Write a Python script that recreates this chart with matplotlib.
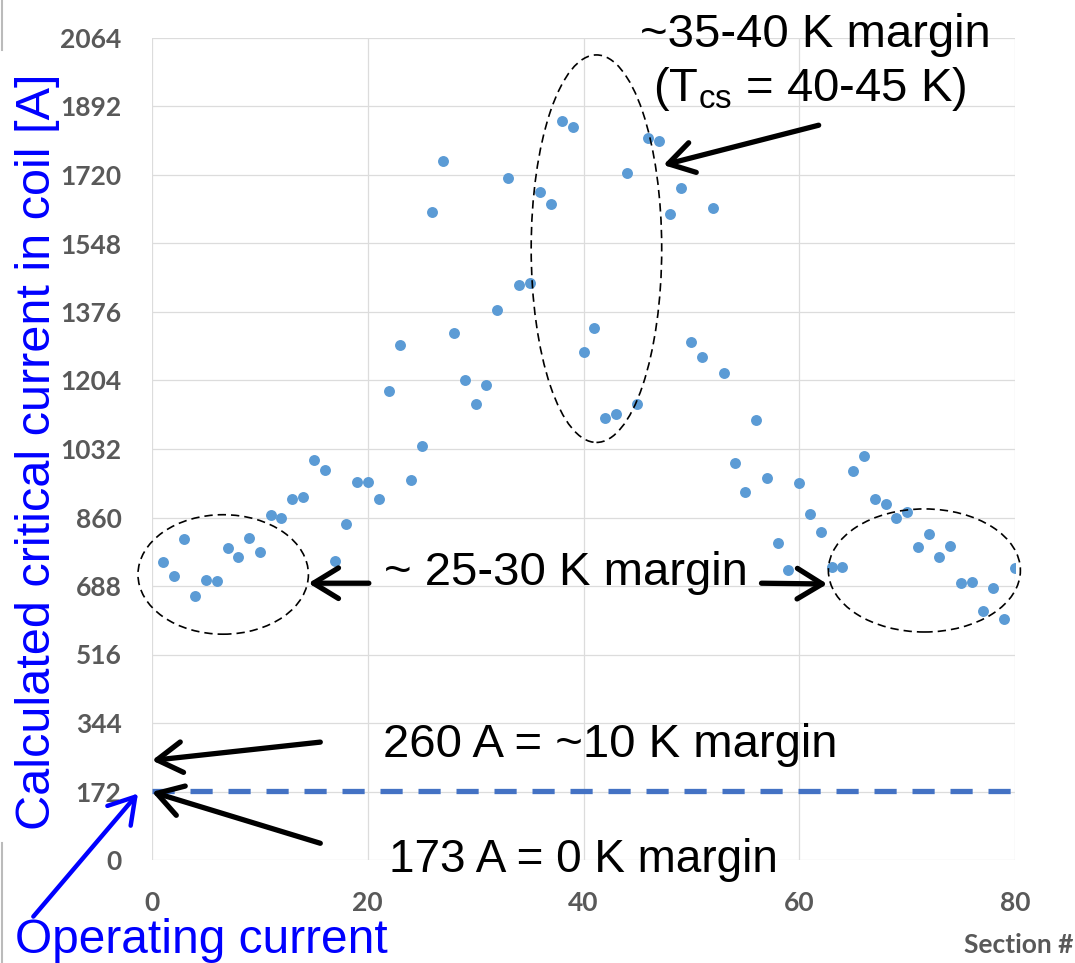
import matplotlib
matplotlib.use("Agg")
import matplotlib.pyplot as plt
import numpy as np
from matplotlib.patches import Ellipse
from matplotlib.lines import Line2D

# Calculated critical current per section
sections = list(range(1, 81))
ic = [748, 713, 806, 664, 703, 700, 783, 761, 808, 774,
      866, 860, 906, 911, 1005, 979, 752, 844, 948, 948,
      906, 1178, 1294, 955, 1040, 1626, 1755, 1324, 1204, 1145,
      1192, 1380, 1713, 1444, 1450, 1677, 1646, 1856, 1841, 1275,
      1337, 1110, 1120, 1724, 1146, 1812, 1806, 1622, 1687, 1300,
      1262, 1637, 1224, 998, 923, 1106, 959, 796, 727, 947,
      868, 823, 735, 735, 978, 1014, 906, 894, 859, 873,
      787, 818, 760, 788, 696, 698, 626, 683, 605, 734]

op_current = 173
x_ticks = [0, 20, 40, 60, 80]
y_ticks = [0, 172, 344, 516, 688, 860, 1032, 1204, 1376, 1548, 1720, 1892, 2064]

plt.rcParams["font.family"] = ["Liberation Sans", "DejaVu Sans"]
plt.rcParams["mathtext.fontset"] = "custom"
plt.rcParams["mathtext.rm"] = "Liberation Sans"

W, H = 1075, 963
fig = plt.figure(figsize=(W / 100, H / 100), dpi=100)
ax = fig.add_axes([152 / W, (H - 860) / H, (1015 - 152) / W, (860 - 38) / H])

ax.set_xlim(0, 80)
ax.set_ylim(0, 2064)
ax.set_xticks(x_ticks)
ax.set_yticks(y_ticks)
for s in ax.spines.values():
    s.set_visible(False)
ax.grid(True, color="#dcdcdc", lw=0.9)
ax.set_axisbelow(True)
ax.tick_params(length=0, labelcolor="#595959", labelsize=19)
ax.tick_params(axis="y", pad=22)
ax.tick_params(axis="x", pad=22)
for lab in ax.get_xticklabels() + ax.get_yticklabels():
    lab.set_fontfamily("Lato")
    lab.set_fontweight("bold")

ax.scatter(sections, ic, s=62, color="#5b9bd5", zorder=3, linewidths=0)
ax.plot([0, 80], [op_current, op_current], color="#4472c4", lw=3.8,
        dashes=(4.2, 3.0), zorder=3, clip_on=False)

# dashed ellipses
ell = dict(fill=False, ec="black", lw=1.2, ls=(0, (5, 3)), clip_on=False, zorder=4)
ax.add_patch(Ellipse((6.6, 717), 15.8, 300, **ell))
ax.add_patch(Ellipse((41.2, 1535), 12.1, 973, **ell))
ax.add_patch(Ellipse((71.6, 727), 17.8, 309, **ell))

# arrows
def arrow(tail, head, color="black", lw=3.8):
    ax.annotate("", xy=head, xytext=tail,
                arrowprops=dict(arrowstyle="->, head_length=0.9, head_width=0.55",
                                lw=lw, color=color, shrinkA=0, shrinkB=0,
                                mutation_scale=20),
                annotation_clip=False, zorder=5)

arrow((61.8, 1845), (47.4, 1745))
arrow((20.1, 695), (14.5, 695))
arrow((56.5, 695), (62.6, 693))
arrow((15.6, 296), (0.0, 250))
arrow((15.6, 42), (0.0, 171))
arrow((-11.0, -142), (-1.3, 167), color="#0000ff", lw=3.2)

big = 34
ax.text(61.5, 2041, "~35-40 K margin", fontsize=big, ha="center", va="baseline")
ax.text(61.0, 1906, r"(T$_\mathrm{cs}$ = 40-45 K)", fontsize=big, ha="center", va="baseline")
ax.text(38.4, 690, "~ 25-30 K margin", fontsize=big, ha="center", va="baseline")
ax.text(42.5, 258, "260 A = ~10 K margin", fontsize=big, ha="center", va="baseline")
ax.text(40.0, -30, "173 A = 0 K margin", fontsize=33, ha="center", va="baseline",
        clip_on=False)

fig.text(15 / W, 1 - 953 / H, "Operating current", color="#0000ff", fontsize=34.5,
         ha="left", va="baseline")
fig.text(1073 / W, 1 - 953 / H, "Section #", color="#595959", fontsize=19,
         fontfamily="Lato", fontweight="bold", ha="right", va="baseline")
fig.text(50 / W, 1 - 452 / H, "Calculated critical current in coil [A]", color="#0000ff",
         fontsize=35, rotation=90, rotation_mode="anchor", ha="center", va="baseline")

# edges of the slide box behind the axis title
fig.add_artist(Line2D([2 / W, 2 / W], [1, 1 - 50 / H], color="#bbbbbb", lw=1.5))
fig.add_artist(Line2D([2 / W, 2 / W], [1 - 843 / H, 0], color="#bbbbbb", lw=1.5))

fig.savefig("out.png", dpi=100)
